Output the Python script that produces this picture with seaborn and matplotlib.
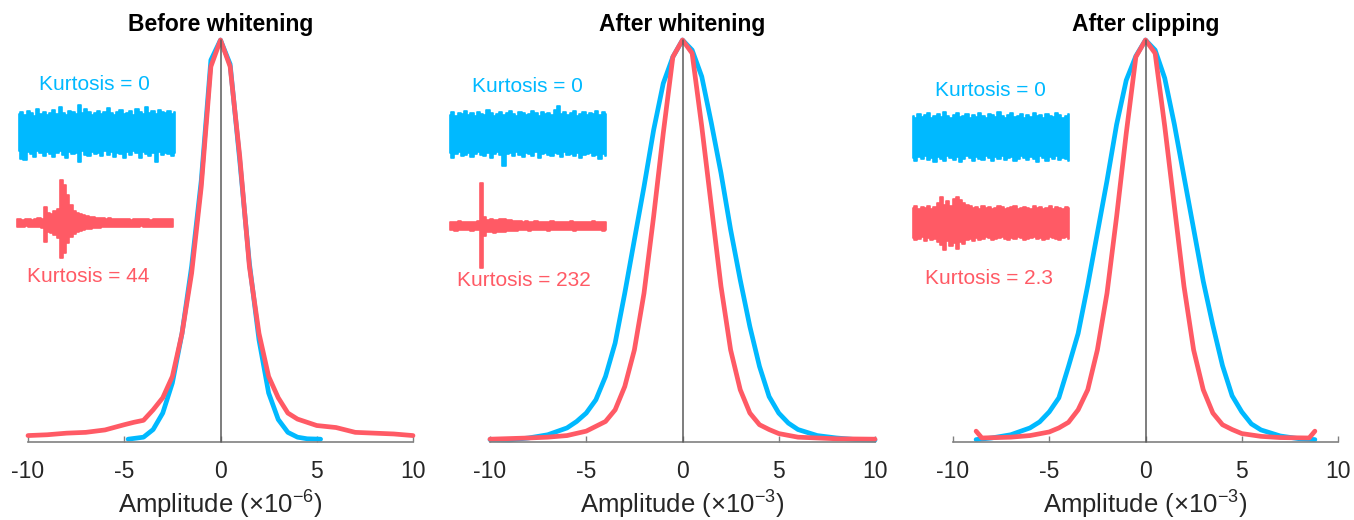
import numpy as np
import pandas as pd
import matplotlib
matplotlib.use("Agg")
import matplotlib.pyplot as plt
import seaborn as sns

# ---------------- data ----------------
titles = ["Before whitening", "After whitening", "After clipping"]
xlabels = [r"Amplitude (×10$^{-6}$)", r"Amplitude (×10$^{-3}$)", r"Amplitude (×10$^{-3}$)"]
kurt_blue = ["Kurtosis = 0", "Kurtosis = 0", "Kurtosis = 0"]
kurt_red = ["Kurtosis = 44", "Kurtosis = 232", "Kurtosis = 2.3"]
xticks = [-10, -5, 0, 5, 10]

# density curves (normalised to peak = 1)
p1_blue_x = [-4.8, -4, -3.5, -3, -2.5, -2, -1.5, -1, -0.5, 0, 0.5, 1, 1.5, 2, 2.5, 3, 3.5, 4, 4.5, 5.2]
p1_blue_y = [0.007, 0.012, 0.031, 0.072, 0.147, 0.270, 0.437, 0.650, 0.950, 1.0, 0.940, 0.700, 0.445,
             0.254, 0.122, 0.056, 0.024, 0.012, 0.008, 0.007]
p1_red_x = [-10, -9, -8, -7, -6, -5, -4.5, -4, -3.5, -3, -2.5, -2, -1.5, -1, -0.5, 0, 0.5, 1, 1.5, 2,
            2.5, 3, 3.5, 4, 5, 6, 7, 8, 9, 10]
p1_red_y = [0.016, 0.018, 0.022, 0.024, 0.030, 0.043, 0.049, 0.054, 0.080, 0.110, 0.163, 0.270, 0.420,
            0.635, 0.934, 1.0, 0.934, 0.710, 0.437, 0.270, 0.163, 0.110, 0.072, 0.057, 0.041, 0.036,
            0.024, 0.022, 0.020, 0.016]

p2_blue_x = [-10, -9, -8, -7, -6, -5.5, -5, -4.5, -4, -3.5, -3, -2.5, -2, -1.5, -1, -0.5, 0, 0.5, 1,
             1.5, 2, 2.5, 3, 3.5, 4, 4.5, 5, 5.5, 6, 7, 8, 9, 10]
p2_blue_y = [0.006, 0.005, 0.010, 0.018, 0.035, 0.051, 0.072, 0.105, 0.163, 0.246, 0.370, 0.503, 0.635,
             0.776, 0.892, 0.958, 1.0, 0.975, 0.909, 0.793, 0.669, 0.528, 0.403, 0.287, 0.188, 0.113,
             0.072, 0.047, 0.031, 0.016, 0.010, 0.006, 0.005]
p2_red_x = [-10, -8, -7, -6, -5, -4.5, -4, -3.5, -3, -2.5, -2, -1.5, -1, -0.5, 0, 0.5, 1, 1.5, 2, 2.5,
            3, 3.5, 4, 4.5, 5, 6, 7, 8, 10]
p2_red_y = [0.007, 0.010, 0.012, 0.016, 0.027, 0.039, 0.051, 0.080, 0.138, 0.229, 0.370, 0.561, 0.768,
            0.958, 1.0, 0.967, 0.785, 0.586, 0.387, 0.229, 0.130, 0.072, 0.043, 0.031, 0.021, 0.012,
            0.010, 0.008, 0.007]

p3_blue_x = [-8.8, -8, -7, -6, -5.5, -5, -4.5, -4, -3.5, -3, -2.5, -2, -1.5, -1, -0.5, 0, 0.5, 1, 1.5,
             2, 2.5, 3, 3.5, 4, 4.5, 5, 5.5, 6, 7, 8, 8.8]
p3_blue_y = [0.006, 0.010, 0.018, 0.035, 0.050, 0.075, 0.110, 0.188, 0.270, 0.390, 0.520, 0.650, 0.790,
             0.900, 0.960, 1.0, 0.975, 0.905, 0.790, 0.660, 0.530, 0.400, 0.290, 0.190, 0.115, 0.075,
             0.045, 0.030, 0.015, 0.008, 0.006]
p3_red_x = [-8.8, -8.5, -7, -6, -5, -4.5, -4, -3.5, -3, -2.5, -2, -1.5, -1, -0.5, 0, 0.5, 1, 1.5, 2,
            2.5, 3, 3.5, 4, 4.5, 5, 6, 7, 8.5, 8.8]
p3_red_y = [0.027, 0.010, 0.012, 0.016, 0.025, 0.035, 0.049, 0.080, 0.130, 0.229, 0.370, 0.561, 0.768,
            0.958, 1.0, 0.967, 0.785, 0.586, 0.387, 0.229, 0.130, 0.072, 0.043, 0.031, 0.021, 0.014,
            0.011, 0.010, 0.027]

# waveform envelopes (inset traces), 50 samples each
blue1_up = [19, 21, 18, 22, 20, 17, 24, 19, 21, 18, 20, 23, 19, 26, 20, 18, 22, 21, 19, 28, 20, 24, 21, 18, 20,
            22, 19, 21, 25, 20, 18, 21, 23, 19, 20, 22, 18, 24, 21, 19, 26, 20, 22, 19, 23, 21, 20, 22, 19, 21]
blue1_lo = [-18, -26, -27, -19, -21, -24, -18, -20, -23, -19, -21, -24, -20, -18, -22, -25, -19, -21, -20, -29,
            -18, -22, -23, -19, -21, -20, -23, -18, -22, -19, -24, -20, -21, -25, -19, -22, -18, -20, -25, -19,
            -21, -23, -20, -29, -19, -22, -20, -21, -23, -20]
red1_up = [4, 4, 3, 4, 4, 3, 4, 5, 4, 16, 10, 9, 12, 14, 43, 38, 28, 18, 12, 10, 9, 8, 7, 6, 6, 5, 5, 5, 4, 5,
           4, 4, 4, 4, 4, 4, 3, 4, 4, 4, 4, 4, 3, 4, 4, 4, 4, 4, 4, 4]
red1_lo = [-4, -4, -4, -3, -4, -4, -4, -4, -5, -19, -9, -10, -12, -15, -35, -30, -20, -14, -11, -9, -8, -7, -6,
           -6, -5, -5, -5, -4, -4, -4, -4, -4, -4, -4, -4, -4, -4, -4, -4, -3, -4, -4, -4, -4, -4, -4, -4, -4,
           -4, -4]
blue2_up = [19, 22, 18, 21, 20, 23, 19, 21, 18, 22, 20, 19, 24, 21, 18, 20, 22, 19, 21, 23, 20, 18, 22, 21, 19,
            20, 23, 21, 18, 22, 20, 21, 19, 24, 28, 20, 22, 19, 21, 23, 18, 20, 22, 19, 21, 20, 23, 19, 22, 20]
blue2_lo = [-19, -24, -20, -18, -22, -21, -19, -23, -20, -18, -21, -22, -19, -24, -20, -18, -21, -32, -20, -19,
            -22, -18, -21, -23, -19, -20, -22, -18, -24, -20, -19, -21, -22, -19, -20, -23, -18, -21, -20, -22,
            -19, -24, -21, -20, -19, -22, -21, -25, -20, -22]
red2_up = [4, 4, 4, 5, 4, 4, 4, 4, 4, 5, 43, 9, 6, 7, 6, 6, 7, 7, 6, 6, 5, 5, 5, 4, 5, 4, 4, 5, 4, 4, 4, 4, 5,
           4, 4, 4, 4, 4, 5, 4, 4, 4, 4, 4, 4, 5, 4, 4, 4, 4]
red2_lo = [-4, -4, -5, -4, -4, -4, -4, -5, -4, -4, -42, -10, -6, -6, -7, -6, -6, -6, -5, -5, -5, -5, -4, -4,
           -4, -5, -4, -4, -4, -4, -4, -5, -4, -4, -4, -4, -4, -4, -4, -5, -4, -4, -4, -4, -4, -4, -4, -4, -5, -4]
blue3_up = [21, 19, 23, 20, 22, 24, 19, 21, 23, 20, 25, 21, 19, 22, 24, 20, 21, 23, 19, 22, 20, 24, 21, 19, 23,
            22, 20, 25, 21, 19, 22, 24, 20, 21, 23, 19, 22, 20, 24, 21, 22, 19, 23, 21, 20, 24, 22, 19, 21, 23]
blue3_lo = [-21, -24, -20, -22, -19, -23, -21, -25, -20, -22, -24, -19, -21, -23, -20, -25, -22, -19, -21, -24,
            -20, -22, -23, -19, -21, -24, -20, -22, -19, -23, -21, -20, -24, -22, -19, -21, -23, -20, -22, -25,
            -19, -21, -24, -20, -22, -19, -23, -21, -22, -24]
red3_up = [15, 17, 14, 16, 15, 17, 14, 16, 20, 26, 18, 22, 17, 24, 26, 23, 20, 18, 17, 15, 16, 14, 17, 15, 16,
           14, 15, 17, 16, 14, 15, 16, 17, 14, 15, 16, 15, 14, 17, 15, 16, 14, 15, 17, 14, 16, 15, 14, 16, 15]
red3_lo = [-15, -17, -16, -14, -18, -15, -17, -16, -19, -22, -27, -18, -23, -20, -26, -19, -21, -17, -16, -18,
           -15, -17, -16, -14, -15, -17, -16, -15, -14, -16, -17, -15, -16, -14, -15, -17, -16, -15, -14, -16,
           -15, -17, -16, -14, -15, -16, -17, -15, -14, -16]

# ---------------- style ----------------
BLUE = "#00B9FF"
RED = "#FF5A65"
sns.set_theme(style="white")
plt.rcParams["font.family"] = ["Liberation Sans", "DejaVu Sans"]
plt.rcParams["mathtext.fontset"] = "custom"
plt.rcParams["mathtext.rm"] = "Liberation Sans"
plt.rcParams["mathtext.it"] = "Liberation Sans:italic"
plt.rcParams["mathtext.default"] = "regular"
plt.rcParams["axes.unicode_minus"] = False

W, H = 1354, 520
fig = plt.figure(figsize=(W / 100, H / 100), dpi=100)


def px_rect(x0, y_top, w, h):
    return [x0 / W, 1 - (y_top + h) / H, w / W, h / H]


curves = [
    (p1_blue_x, p1_blue_y, p1_red_x, p1_red_y),
    (p2_blue_x, p2_blue_y, p2_red_x, p2_red_y),
    (p3_blue_x, p3_blue_y, p3_red_x, p3_red_y),
]
waves = [
    (blue1_up, blue1_lo, red1_up, red1_lo),
    (blue2_up, blue2_lo, red2_up, red2_lo),
    (blue3_up, blue3_lo, red3_up, red3_lo),
]
ax_left = [28, 490, 953]
ax_w = 385
ax_top, ax_bot = 40, 442
blue_wave_pos = [(17, 133), (448, 134), (911, 137)]
red_wave_pos = [(15, 223), (448, 226), (911, 223)]
wave_w = 160
blue_txt = [(94, 85), (527, 86), (990, 91)]
red_txt = [(88, 277), (524, 281), (989, 278)]
label_pads = [4, 4, 4]

for i in range(3):
    ax = fig.add_axes(px_rect(ax_left[i], ax_top, ax_w, ax_bot - ax_top))
    bx, by, rx, ry = curves[i]
    df = pd.concat([
        pd.DataFrame({"x": bx, "y": by, "s": "blue"}),
        pd.DataFrame({"x": rx, "y": ry, "s": "red"}),
    ], ignore_index=True)
    sns.lineplot(data=df, x="x", y="y", hue="s", palette={"blue": BLUE, "red": RED},
                 linewidth=3.4, legend=False, ax=ax, estimator=None)
    for ln in ax.get_lines():
        ln.set_clip_on(False)
        ln.set_solid_joinstyle("round")
    ax.plot([0, 0], [0, 1], color="#5a5a5a", lw=1.1, zorder=5, clip_on=False)
    ax.set_xlim(-10, 10)
    ax.set_ylim(0, 1)
    for s in ["top", "left", "right"]:
        ax.spines[s].set_visible(False)
    ax.spines["bottom"].set_color("#808080")
    ax.spines["bottom"].set_linewidth(1.2)
    ax.set_yticks([])
    ax.set_xticks(xticks)
    ax.set_xticklabels([str(t) for t in xticks])
    ax.tick_params(axis="x", direction="in", length=4, width=1.0, color="#808080",
                   labelsize=16.5, pad=13, labelcolor="#262626", bottom=True)
    ax.set_xlabel(xlabels[i], fontsize=18.5, color="#262626", labelpad=label_pads[i])
    ax.set_ylabel("")
    ax.patch.set_alpha(0)
    fig.text((ax_left[i] + ax_w / 2) / W, 1 - 25 / H, titles[i], ha="center", va="center",
             fontsize=16.5, fontweight="bold", color="black")

    bu, bl, ru, rl = waves[i]
    for (up, lo, col, (x0, yc)) in [(bu, bl, BLUE, blue_wave_pos[i]), (ru, rl, RED, red_wave_pos[i])]:
        wax = fig.add_axes(px_rect(x0, yc - 50, wave_w, 100))
        t = np.arange(len(up))
        wax.fill_between(t, lo, up, step="mid", color=col, lw=1.2, edgecolor=col)
        wax.set_xlim(-0.5, len(up) - 0.5)
        wax.set_ylim(-50, 50)
        wax.axis("off")

    fig.text(blue_txt[i][0] / W, 1 - blue_txt[i][1] / H, kurt_blue[i], ha="center", va="center",
             fontsize=15, color=BLUE)
    fig.text(red_txt[i][0] / W, 1 - red_txt[i][1] / H, kurt_red[i], ha="center", va="center",
             fontsize=15, color=RED)

fig.savefig("out.png", dpi=100)
